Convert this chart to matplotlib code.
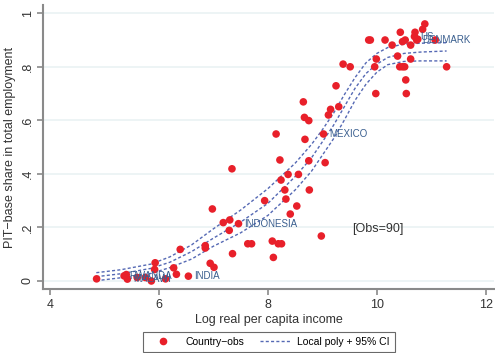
import matplotlib
matplotlib.use("Agg")
import matplotlib.pyplot as plt
from matplotlib.lines import Line2D

plt.rcParams['font.family'] = ['Liberation Sans', 'DejaVu Sans']

# country observations: log real per capita income vs PIT-base share
log_income = [4.855, 5.36, 5.42, 5.40, 5.60, 5.75, 5.86, 5.93, 5.92, 6.12, 6.27, 6.32, 6.39, 6.54,
              6.85, 6.85, 6.94, 7.01, 6.98, 7.18, 7.30, 7.29, 7.35, 7.46, 7.63, 7.70, 7.34, 7.94,
              8.08, 8.19, 8.25, 8.10, 8.24, 8.31, 8.33, 8.41, 8.53, 8.15, 8.22, 8.37, 8.56, 8.75,
              8.76, 9.05, 8.98, 8.68, 9.02, 8.65, 8.67, 8.75, 9.11, 9.15, 9.30, 9.25, 9.38, 9.51,
              9.96, 9.98, 9.99, 9.85, 9.88, 10.15, 10.28, 10.38, 10.42, 10.47, 10.51, 10.43, 10.47,
              10.52, 10.53, 10.54, 10.62, 10.62, 10.69, 10.73, 10.70, 10.84, 10.88, 10.75, 11.07, 11.28]
pit_share = [0.008, 0.019, 0.007, 0.024, 0.013, 0.013, 0.0, 0.068, 0.043, 0.008, 0.049, 0.025, 0.118, 0.018,
             0.132, 0.123, 0.066, 0.051, 0.269, 0.218, 0.228, 0.189, 0.102, 0.214, 0.139, 0.139, 0.419, 0.30,
             0.149, 0.139, 0.139, 0.088, 0.377, 0.34, 0.306, 0.25, 0.28, 0.549, 0.452, 0.398, 0.398, 0.449,
             0.34, 0.442, 0.168, 0.529, 0.549, 0.669, 0.611, 0.599, 0.62, 0.641, 0.651, 0.729, 0.81, 0.80,
             0.80, 0.70, 0.829, 0.90, 0.90, 0.90, 0.881, 0.84, 0.80, 0.80, 0.80, 0.929, 0.894,
             0.90, 0.751, 0.70, 0.881, 0.829, 0.913, 0.90, 0.929, 0.94, 0.96, 0.903, 0.90, 0.80]

# labelled countries
lab_names = ['RWANDA', 'MALAWI', 'INDIA', 'INDONESIA', 'MEXICO', 'US', 'DENMARK']
lab_x = [5.36, 5.42, 6.54, 7.46, 9.02, 10.69, 10.73]
lab_y = [0.019, 0.007, 0.018, 0.214, 0.549, 0.913, 0.90]

# local polynomial fit and 95% CI
fit_x = [4.85, 5.3, 5.85, 6.2, 6.6, 7.0, 7.5, 8.0, 8.5, 8.8, 9.0, 9.2, 9.4, 9.6, 9.8, 10.0,
         10.2, 10.5, 10.8, 11.28]
fit_mid = [0.016, 0.027, 0.047, 0.07, 0.11, 0.16, 0.22, 0.29, 0.39, 0.46, 0.52, 0.58, 0.65, 0.72,
           0.775, 0.81, 0.835, 0.85, 0.855, 0.859]
fit_hi = [0.031, 0.042, 0.063, 0.09, 0.135, 0.195, 0.265, 0.345, 0.44, 0.51, 0.565, 0.625, 0.695,
          0.76, 0.815, 0.85, 0.872, 0.885, 0.888, 0.89]
fit_lo = [0.001, 0.012, 0.028, 0.05, 0.082, 0.13, 0.18, 0.245, 0.34, 0.41, 0.47, 0.53, 0.60,
          0.675, 0.735, 0.78, 0.808, 0.82, 0.822, 0.822]

x_ticks = [4, 6, 8, 10, 12]
y_ticks = [0, 0.2, 0.4, 0.6, 0.8, 1.0]
y_ticklabels = ['0', '.2', '.4', '.6', '.8', '1']

red = '#e8202a'
blue = '#5569b4'
navy = '#3a5f8f'
axc = '#8a8a8a'

fig = plt.figure(figsize=(4.95, 3.53), dpi=100)
ax = fig.add_axes([0.0875, 0.1805, 0.9105, 0.8055])

for yv in y_ticks:
    ax.axhline(yv, color='#eaf2f3', lw=1.2, zorder=0)

dash = (0, (2.2, 1.6))
for ys in (fit_hi, fit_mid, fit_lo):
    ax.plot(fit_x, ys, color=blue, lw=1.0, linestyle=dash, zorder=2)

ax.scatter(log_income, pit_share, s=30, color=red, edgecolors='none', zorder=3)

for name, xv, yv in zip(lab_names, lab_x, lab_y):
    ax.annotate(name, (xv, yv), xytext=(4, 0), textcoords='offset points',
                ha='left', va='center', fontsize=7, color=navy, zorder=4)

ax.text(9.55, 0.195, '[Obs=90]', fontsize=9, color='#333333', ha='left', va='center')

ax.set_xlim(3.877, 12.15)
ax.set_ylim(-0.031, 1.031)
ax.set_xticks(x_ticks)
ax.set_yticks(y_ticks)
ax.set_yticklabels(y_ticklabels, rotation=90, va='center')
ax.tick_params(direction='out', length=4, width=1.2, color=axc, labelsize=9,
               labelcolor='#333333', pad=3)
for side in ('top', 'right'):
    ax.spines[side].set_visible(False)
for side in ('left', 'bottom'):
    ax.spines[side].set_color(axc)
    ax.spines[side].set_linewidth(1.5)

ax.set_xlabel('Log real per capita income', fontsize=9, color='#333333', labelpad=2)
ax.set_ylabel('PIT\u2212base share in total employment', fontsize=9, color='#333333', labelpad=4)

handles = [Line2D([], [], marker='o', color=red, linestyle='none', markersize=5.5, markeredgewidth=0),
           Line2D([], [], color=blue, lw=1.0, linestyle=dash)]
leg = fig.legend(handles, ['Country\u2212obs', 'Local poly + 95% CI'], ncol=2, loc='center',
                 bbox_to_anchor=(0.543, 0.031), fontsize=7.5, frameon=True, fancybox=False,
                 handlelength=3.0, handletextpad=0.6, columnspacing=1.5, borderpad=0.5,
                 edgecolor='#444444')
leg.get_frame().set_linewidth(0.8)

fig.savefig('out.png', dpi=100)
